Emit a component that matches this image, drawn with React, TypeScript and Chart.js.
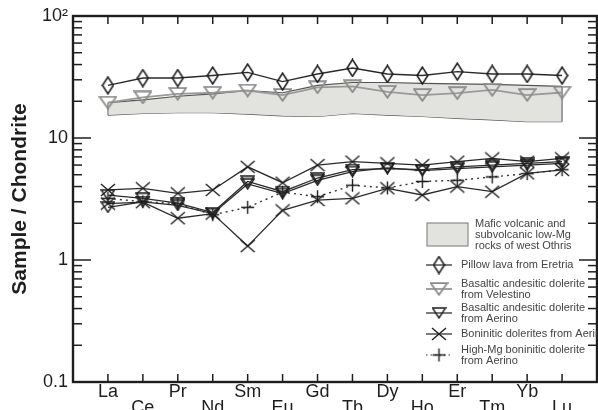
import React, { useEffect, useRef } from 'react';
import { Chart, registerables } from 'chart.js';

Chart.register(...registerables);

// ---------- data ----------
const categories = ['La', 'Ce', 'Pr', 'Nd', 'Sm', 'Eu', 'Gd', 'Tb', 'Dy', 'Ho', 'Er', 'Tm', 'Yb', 'Lu'];

const pillowLava = [27, 31, 31, 32.5, 34.5, 29, 33.5, 37.5, 33.5, 32.5, 35, 33.5, 33.5, 32.5];
const velestino = [19.5, 21.5, 23, 23.5, 24.5, 22.5, 26, 26.5, 23.9, 22.5, 23.3, 24.8, 22.5, 23.6];
const bandUpper = [19.5, 20.5, 22, 23, 24.5, 23.5, 27, 28.5, 28.5, 28, 27.8, 27.5, 27, 26.5];
const bandLower = [15.4, 15.9, 16.1, 16.1, 15.7, 15.2, 15, 15.9, 15.4, 15, 14.5, 14.1, 13.6, 13.6];

const aerinoA = [3.4, 3.2, 2.93, 2.45, 4.4, 3.63, 4.7, 5.5, 5.6, 5.5, 5.8, 6.0, 6.2, 6.4];
const aerinoB = [2.7, 3.0, 2.8, 2.4, 4.2, 3.5, 4.5, 5.3, 5.7, 5.4, 5.6, 5.8, 6.0, 6.2];
const boniniticA = [3.75, 3.87, 3.52, 3.75, 5.8, 4.3, 6.0, 6.4, 6.2, 6.0, 6.4, 6.8, 6.4, 6.8];
const boniniticB = [2.9, 2.98, 2.2, 2.4, 1.3, 2.55, 3.1, 3.2, 3.87, 3.41, 4.0, 3.63, 5.13, 5.47];
const highMg = [3.2, 3.0, 2.9, 2.35, 2.7, 3.6, 3.3, 4.1, 3.9, 4.4, 4.5, 4.8, 5.1, 5.5];

const yTickValues = [0.1, 1, 10, 100];
const yTickLabels = ['0.1', '1', '10', '10²'];
const decades = [0.1, 1, 10];
const minorSteps = [2, 3, 4, 5, 6, 7, 8, 9];

const legendBandLines = ['Mafic volcanic and', 'subvolcanic low-Mg', 'rocks of west Othris'];
const legendItems = [
  { key: 'diamond', lines: ['Pillow lava from Eretria'], line: 'solid' },
  { key: 'triGray', lines: ['Basaltic andesitic dolerite', 'from Velestino'], line: 'gray' },
  { key: 'triDark', lines: ['Basaltic andesitic dolerite', 'from Aerino'], line: 'solid' },
  { key: 'cross', lines: ['Boninitic dolerites from Aerino'], line: 'solid' },
  { key: 'plus', lines: ['High-Mg boninitic dolerite', 'from Aerino'], line: 'dotted' },
];

const FONT = '"Liberation Sans", Arial, sans-serif';

// ---------- markers ----------
function makeMarker(kind: string, w: number, h: number, color: string, lw: number) {
  const c = document.createElement('canvas');
  c.width = w;
  c.height = h;
  const ctx = c.getContext('2d')!;
  ctx.strokeStyle = color;
  ctx.lineWidth = lw;
  const m = lw / 2 + 0.3;
  ctx.beginPath();
  if (kind === 'diamond') {
    ctx.moveTo(w / 2, m);
    ctx.lineTo(w - m, h / 2);
    ctx.lineTo(w / 2, h - m);
    ctx.lineTo(m, h / 2);
    ctx.closePath();
  } else if (kind === 'tri') {
    ctx.moveTo(m, m);
    ctx.lineTo(w - m, m);
    ctx.lineTo(w / 2, h - m);
    ctx.closePath();
  } else if (kind === 'cross') {
    ctx.moveTo(m, m);
    ctx.lineTo(w - m, h - m);
    ctx.moveTo(w - m, m);
    ctx.lineTo(m, h - m);
  } else if (kind === 'plus') {
    ctx.moveTo(w / 2, m);
    ctx.lineTo(w / 2, h - m);
    ctx.moveTo(m, h / 2);
    ctx.lineTo(w - m, h / 2);
  }
  ctx.stroke();
  return c;
}

export default function App() {
  const ref = useRef<HTMLCanvasElement | null>(null);

  useEffect(() => {
    const canvas = ref.current;
    if (!canvas) return;

    const mk = {
      diamond: makeMarker('diamond', 13, 19, '#1e1e1e', 1.6),
      triGray: makeMarker('tri', 19, 14, '#8a8a8a', 1.8),
      triDark: makeMarker('tri', 15, 12, '#1e1e1e', 1.5),
      cross: makeMarker('cross', 16, 14, '#1e1e1e', 1.4),
      plus: makeMarker('plus', 15, 15, '#1e1e1e', 1.4),
    } as Record<string, HTMLCanvasElement>;

    const pts = (arr: number[]) => arr.map((v, i) => ({ x: i, y: v }));

    const lineDs = (label: string, arr: number[], marker: HTMLCanvasElement, color: string, width: number, dash: number[] = [], order = 1) => ({
      label,
      data: pts(arr),
      borderColor: color,
      borderWidth: width,
      borderDash: dash,
      pointStyle: marker,
      pointRadius: 6,
      fill: false,
      tension: 0,
      order,
    });

    const frame = {
      id: 'frame',
      afterDatasetsDraw(chart: any) {
        const { ctx, chartArea: a, scales } = chart;
        const x = scales.x;
        const y = scales.y;
        ctx.save();
        ctx.strokeStyle = '#1e1e1e';
        ctx.lineWidth = 1.5;
        const seg = (x1: number, y1: number, x2: number, y2: number) => {
          ctx.beginPath();
          ctx.moveTo(x1, y1);
          ctx.lineTo(x2, y2);
          ctx.stroke();
        };
        categories.forEach((_, i) => {
          const px = x.getPixelForValue(i);
          seg(px, a.top, px, a.top + 8);
          seg(px, a.bottom, px, a.bottom - 8);
        });
        decades.forEach((d) => {
          minorSteps.forEach((k) => {
            const py = y.getPixelForValue(d * k);
            seg(a.left, py, a.left + 9, py);
            seg(a.right, py, a.right - 9, py);
          });
        });
        [1, 10].forEach((v) => {
          const py = y.getPixelForValue(v);
          seg(a.left, py, a.left + 18, py);
          seg(a.right, py, a.right - 18, py);
        });
        ctx.lineWidth = 2.4;
        ctx.strokeRect(a.left, a.top, a.right - a.left, a.bottom - a.top);
        ctx.restore();
      },
    };

    const legend = {
      id: 'customLegend',
      afterDraw(chart: any) {
        const { ctx } = chart;
        ctx.save();
        ctx.fillStyle = '#e2e2de';
        ctx.fillRect(427, 223, 41, 23);
        ctx.strokeStyle = '#8a8a8a';
        ctx.lineWidth = 1.2;
        ctx.strokeRect(427, 223, 41, 23);
        ctx.fillStyle = '#444';
        ctx.font = `11px ${FONT}`;
        ctx.textBaseline = 'middle';
        ctx.textAlign = 'left';
        legendBandLines.forEach((t, i) => ctx.fillText(t, 475, 224 + i * 11));

        const rowsY = [265, 289, 313, 334, 355];
        legendItems.forEach((it, i) => {
          const cy = rowsY[i];
          ctx.beginPath();
          if (it.line === 'gray') {
            ctx.strokeStyle = '#a0a0a0';
            ctx.lineWidth = 2;
            ctx.setLineDash([]);
          } else if (it.line === 'dotted') {
            ctx.strokeStyle = '#333';
            ctx.lineWidth = 1.2;
            ctx.setLineDash([1.5, 3]);
          } else {
            ctx.strokeStyle = '#333';
            ctx.lineWidth = 1.3;
            ctx.setLineDash([]);
          }
          ctx.moveTo(426, cy);
          ctx.lineTo(452, cy);
          ctx.stroke();
          ctx.setLineDash([]);
          const img = mk[it.key];
          ctx.drawImage(img, 439 - img.width / 2, cy - img.height / 2);
          ctx.fillStyle = '#444';
          const n = it.lines.length;
          it.lines.forEach((t, j) => {
            ctx.fillText(t, 461, cy + (j - (n - 1) / 2) * 11);
          });
        });
        ctx.restore();
      },
    };

    const chart = new Chart(canvas, {
      type: 'line',
      data: {
        datasets: [
          {
            label: 'band upper',
            data: pts(bandUpper),
            borderColor: '#555',
            borderWidth: 1.2,
            pointRadius: 0,
            fill: '+1',
            backgroundColor: '#e2e2de',
            order: 10,
          } as any,
          {
            label: 'band lower',
            data: pts(bandLower),
            borderColor: '#555',
            borderWidth: 1.2,
            pointRadius: 0,
            fill: false,
            order: 10,
          },
          {
            label: 'band edge La',
            data: [{ x: 0, y: bandLower[0] }, { x: 0, y: bandUpper[0] }],
            borderColor: '#666',
            borderWidth: 1,
            pointRadius: 0,
            fill: false,
            order: 9,
          },
          {
            label: 'band edge Lu',
            data: [{ x: 13, y: bandLower[13] }, { x: 13, y: bandUpper[13] }],
            borderColor: '#666',
            borderWidth: 1.2,
            pointRadius: 0,
            fill: false,
            order: 9,
          },
          lineDs('Velestino', velestino, mk.triGray, '#9a9a9a', 1.8, [], 3),
          lineDs('Pillow lava', pillowLava, mk.diamond, '#2a2a2a', 1.4),
          lineDs('Aerino A', aerinoA, mk.triDark, '#2a2a2a', 1.3),
          lineDs('Aerino B', aerinoB, mk.triDark, '#2a2a2a', 1.3),
          lineDs('Boninitic A', boniniticA, mk.cross, '#2a2a2a', 1.3),
          lineDs('Boninitic B', boniniticB, mk.cross, '#2a2a2a', 1.3),
          lineDs('High-Mg', highMg, mk.plus, '#333', 1.4, [2, 4]),
        ],
      },
      options: {
        animation: false,
        responsive: false,
        devicePixelRatio: 1,
        layout: { autoPadding: false, padding: { top: 16, right: 1, left: 0, bottom: 0 } },
        plugins: { legend: { display: false }, tooltip: { enabled: false } },
        scales: {
          x: {
            type: 'linear',
            min: -1,
            max: 14,
            afterBuildTicks: (s: any) => {
              s.ticks = categories.map((_, i) => ({ value: i }));
            },
            afterFit: (s: any) => {
              s.height = 28;
              s.paddingLeft = 0;
              s.paddingRight = 0;
            },
            grid: { display: false, drawTicks: false },
            border: { display: false },
            ticks: {
              autoSkip: false,
              maxRotation: 0,
              minRotation: 0,
              padding: 2,
              color: '#1e1e1e',
              font: { size: 18, family: FONT, lineHeight: 0.9 },
              callback: (v: any) => {
                const i = Math.round(Number(v));
                const c = categories[i];
                if (c === undefined) return '';
                return i % 2 === 0 ? c : ['', c];
              },
            },
          },
          y: {
            type: 'logarithmic',
            min: 0.1,
            max: 100,
            afterBuildTicks: (s: any) => {
              s.ticks = yTickValues.map((v) => ({ value: v, major: true }));
            },
            afterFit: (s: any) => {
              s.width = 73;
              s.paddingTop = 0;
              s.paddingBottom = 0;
            },
            grid: { display: false, drawTicks: false },
            border: { display: false },
            ticks: {
              padding: 5,
              color: '#1e1e1e',
              font: { size: 18, family: FONT },
              callback: (v: any) => {
                const idx = yTickValues.findIndex((t) => Math.abs(t - Number(v)) < 1e-9);
                return idx >= 0 ? yTickLabels[idx] : '';
              },
            },
            title: {
              display: true,
              text: 'Sample / Chondrite',
              color: '#1e1e1e',
              font: { size: 21, weight: 'bold', family: FONT },
              padding: { top: 8, bottom: 0 },
            },
          },
        },
      },
      plugins: [frame, legend],
    } as any);

    return () => chart.destroy();
  }, []);

  return (
    <div style={{ position: 'absolute', left: 0, top: 0, width: 598, height: 410, background: '#fff' }}>
      <canvas ref={ref} width={598} height={410} style={{ display: 'block', width: 598, height: 410 }} />
    </div>
  );
}
